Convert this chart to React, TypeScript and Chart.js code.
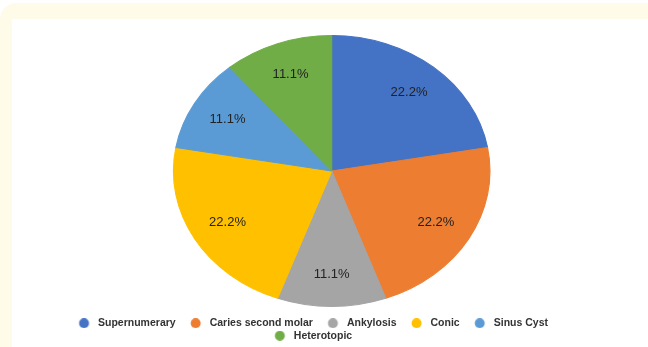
import React, { useEffect, useRef } from 'react';
import { Chart, registerables } from 'chart.js';

Chart.register(...registerables);

const categories = ['Supernumerary', 'Caries second molar', 'Ankylosis', 'Conic', 'Sinus Cyst', 'Heterotopic'];
const shares = [22.2, 22.2, 11.1, 22.2, 11.1, 11.1];
const colors = ['#4472C4', '#ED7D31', '#A5A5A5', '#FFC000', '#5B9BD5', '#70AD47'];

const PIE_RADIUS = 135.5;
const PIE_SX = 1.168;
const PIE_DX = 24.7;
const LABEL_F = 0.76;
const FONT = '"Liberation Sans", Arial, Helvetica, sans-serif';

function legendDot(color: string) {
  const c = document.createElement('canvas');
  c.width = 30;
  c.height = 10;
  const g = c.getContext('2d')!;
  g.fillStyle = color;
  g.beginPath();
  g.arc(19.625, 5, 5, 0, Math.PI * 2);
  g.fill();
  return c;
}

const ellipsePlugin = {
  id: 'ellipsePie',
  beforeDatasetsDraw(chart: any) {
    const arc = chart.getDatasetMeta(0).data[0];
    const ctx = chart.ctx;
    ctx.save();
    if (arc) {
      ctx.translate(arc.x + PIE_DX, arc.y);
      ctx.scale(PIE_SX, 1);
      ctx.translate(-arc.x, -arc.y);
    }
  },
  afterDatasetsDraw(chart: any) {
    const ctx = chart.ctx;
    ctx.restore();
    const meta = chart.getDatasetMeta(0);
    ctx.save();
    ctx.font = '13px ' + FONT;
    ctx.fillStyle = '#222222';
    ctx.textAlign = 'center';
    ctx.textBaseline = 'middle';
    meta.data.forEach((el: any, i: number) => {
      const p = el.getProps(['x', 'y', 'startAngle', 'endAngle', 'outerRadius'], true);
      const a = (p.startAngle + p.endAngle) / 2;
      const px = p.x + PIE_DX + PIE_SX * p.outerRadius * LABEL_F * Math.cos(a);
      const py = p.y + p.outerRadius * LABEL_F * Math.sin(a);
      ctx.fillText(shares[i].toFixed(1) + '%', px, py);
    });
    ctx.restore();
  },
};

export default function App() {
  const ref = useRef<HTMLCanvasElement | null>(null);

  useEffect(() => {
    if (!ref.current) return;
    const dots = colors.map(legendDot);
    const chart = new Chart(ref.current, {
      type: 'pie',
      data: {
        labels: categories,
        datasets: [
          {
            data: shares,
            backgroundColor: colors,
            borderColor: colors,
            borderWidth: 1,
            radius: PIE_RADIUS,
            clip: false,
          } as any,
        ],
      },
      options: {
        responsive: false,
        animation: false,
        events: [],
        layout: { padding: { top: 26, left: 40, right: 74, bottom: 0 } },
        plugins: {
          tooltip: { enabled: false },
          legend: {
            position: 'bottom',
            align: 'center',
            labels: {
              usePointStyle: true,
              pointStyleWidth: 26.75,
              padding: 2,
              color: '#333333',
              font: { family: FONT, size: 10.5, weight: 'bold' },
              generateLabels(c: any) {
                const items = (Chart as any).overrides.doughnut.plugins.legend.labels.generateLabels(c);
                return items.map((it: any, i: number) => ({ ...it, pointStyle: dots[i], lineWidth: 0 }));
              },
            },
          },
        },
      } as any,
      plugins: [ellipsePlugin],
    });
    return () => chart.destroy();
  }, []);

  return (
    <div
      style={{
        position: 'fixed',
        left: 0,
        top: 0,
        width: 648,
        height: 347,
        overflow: 'hidden',
        background: '#ffffff',
      }}
    >
      <div
        style={{
          position: 'absolute',
          left: 0,
          top: 3,
          right: 0,
          bottom: 0,
          background: '#FFFBE9',
          borderTopLeftRadius: 16,
        }}
      />
      <div
        style={{
          position: 'absolute',
          left: 12,
          top: 19,
          right: 0,
          bottom: 0,
          background: '#ffffff',
        }}
      />
      <canvas
        ref={ref}
        width={648}
        height={351}
        style={{ position: 'absolute', left: 0, top: 0, width: 648, height: 351 }}
      />
    </div>
  );
}
